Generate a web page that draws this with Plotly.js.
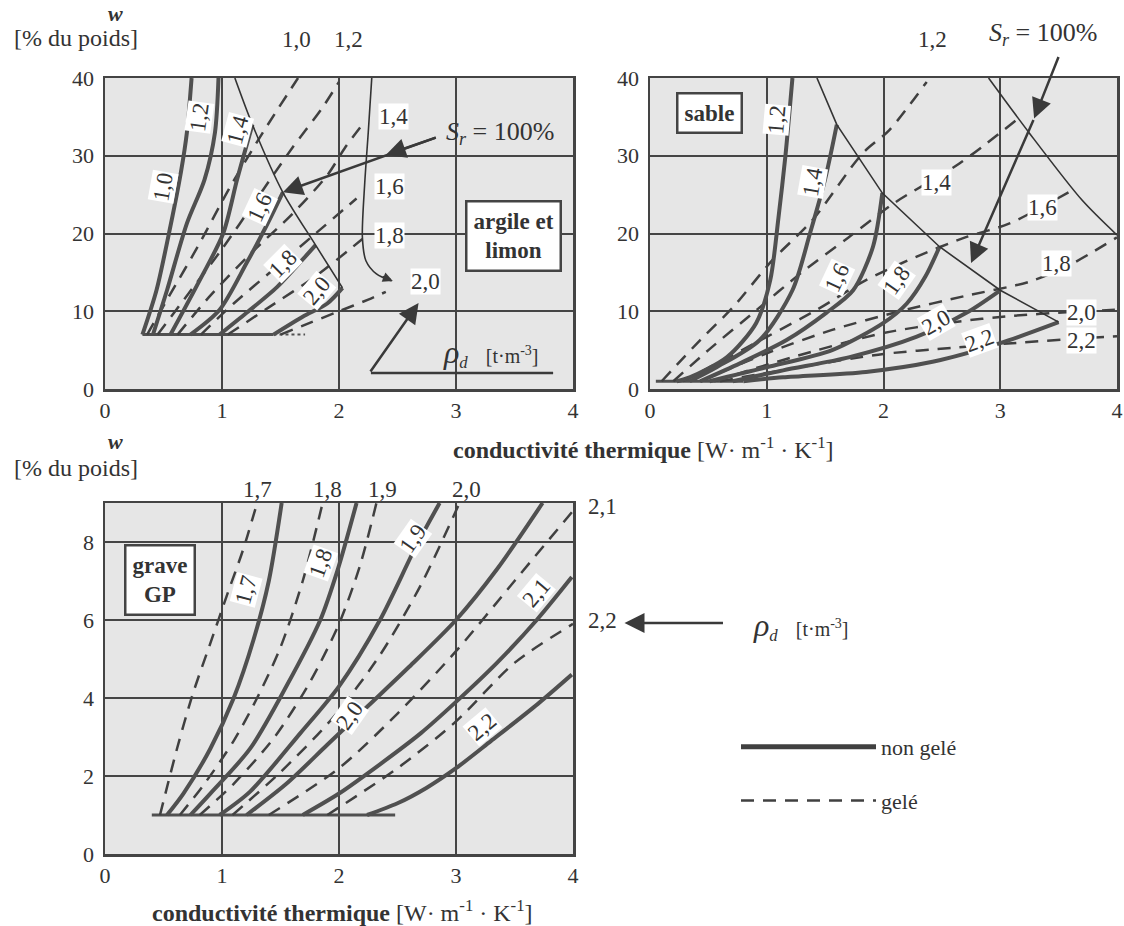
<!DOCTYPE html>
<html>
<head>
<meta charset="utf-8">
<script src="https://cdn.plot.ly/plotly-3.0.1.min.js"></script>
<style>body{margin:0;background:#fff}</style>
</head>
<body>
<div id="chart"></div>
<script>
// densités sèches (t/m3) de chaque famille de courbes
const rhoArgile = ['1,0', '1,2', '1,4', '1,6', '1,8', '2,0'];
const rhoSable = ['1,2', '1,4', '1,6', '1,8', '2,0', '2,2'];
const rhoGrave = ['1,7', '1,8', '1,9', '2,0', '2,1', '2,2'];

// argile et limon - non gelé
const argileSolidK = [
  [0.32, 0.44, 0.56, 0.65, 0.70, 0.74],
  [0.41, 0.53, 0.70, 0.85, 0.94, 0.97],
  [0.56, 0.81, 1.01, 1.13, 1.26],
  [0.73, 0.98, 1.21, 1.38, 1.52],
  [0.98, 1.21, 1.47, 1.68, 1.80],
  [1.44, 1.69, 1.90, 2.03]
];
const argileSolidW = [
  [7, 12.7, 21, 28, 33, 40],
  [7, 12.7, 21.3, 26.9, 33, 40],
  [7, 14, 20, 27, 34],
  [7, 10.2, 16.2, 21, 25.3],
  [7, 9.8, 13.1, 16.5, 18.5],
  [7, 9.3, 11, 13]
];
// argile et limon - gelé
const argileDashK = [
  [0.36, 0.55, 0.80, 1.07, 1.35, 1.65],
  [0.45, 0.70, 1.00, 1.30, 1.60, 1.85, 2.00],
  [0.62, 0.90, 1.25, 1.60, 1.90, 2.05, 2.20],
  [0.82, 1.10, 1.45, 1.80, 2.15],
  [1.05, 1.40, 1.80, 2.20],
  [1.50, 1.75, 2.00, 2.25, 2.40]
];
const argileDashW = [
  [7, 12, 18.5, 26, 33, 40],
  [7, 12, 18, 24.5, 31, 36, 39.5],
  [7, 12, 17.5, 22.5, 27.5, 31, 34],
  [7, 11, 15.5, 20, 24.5],
  [7, 10.5, 14.5, 19.3],
  [7, 8.5, 10, 11.5, 12.5]
];
const argileSrK = [1.11, 1.26, 1.52, 1.80, 2.03];
const argileSrW = [40, 34, 25.3, 18.5, 13];
const argileLeaderK = [2.28, 2.25, 2.22, 2.20, 2.23, 2.32, 2.45];
const argileLeaderW = [40, 33, 26.5, 19.5, 16.5, 14.8, 13.9];
const argileBaseK = [0.32, 1.44];
const argileBaseW = [7, 7];
const argileBaseDotK = [1.44, 1.71];

// sable
const sableSolidK = [
  [0.23, 0.34, 0.66, 0.91, 1.03, 1.10, 1.16, 1.22],
  [0.34, 0.57, 0.94, 1.22, 1.37, 1.50, 1.60],
  [0.43, 0.77, 1.17, 1.51, 1.74, 1.91, 1.99],
  [0.51, 1.00, 1.56, 2.00, 2.20, 2.36, 2.48],
  [0.71, 1.14, 1.71, 2.28, 2.71, 3.00],
  [0.80, 1.14, 1.85, 2.42, 3.00, 3.50]
];
const sableSolidW = [
  [1, 1.5, 4.1, 8.5, 14, 22, 30, 40],
  [1, 2.8, 6.3, 12.7, 20, 27, 34],
  [1, 3.3, 6.3, 9.8, 12.7, 18.3, 25.2],
  [1, 2.8, 5, 8.5, 11, 14.5, 18.3],
  [1, 2.4, 4.1, 6.7, 9.8, 12.7],
  [1, 1.5, 2.2, 3.5, 5.9, 8.6]
];
const sableDashK = [
  [0.10, 0.43, 0.71, 1.05, 1.39, 1.82, 2.05, 2.37],
  [0.20, 0.50, 0.90, 1.30, 1.70, 2.10, 2.65, 3.13],
  [0.28, 0.51, 1.00, 1.43, 1.85, 2.28, 2.70, 3.08, 3.62],
  [0.43, 1.00, 1.56, 2.14, 2.71, 3.25, 3.60, 4.00],
  [0.55, 1.20, 2.00, 2.60, 3.10, 3.60, 4.00],
  [0.60, 1.28, 2.00, 2.60, 3.20, 3.70, 4.00]
];
const sableDashW = [
  [1, 6.3, 10.5, 16.6, 21.7, 30.3, 33.3, 39.5],
  [1, 5, 10, 15, 19.5, 24, 29, 34.5],
  [1, 2.8, 6.7, 10.2, 14, 17, 19.5, 21.3, 25.6],
  [1, 4.6, 7.6, 10, 12, 13.8, 16, 19.5],
  [1, 4, 7.2, 8.6, 9.4, 9.9, 10.2],
  [1, 2.8, 4.5, 5.3, 6.0, 6.5, 6.8]
];
const sableSrK = [1.43, 1.60, 1.99, 2.48, 3.00, 3.50];
const sableSrW = [40, 34, 25.2, 18.3, 12.7, 8.6];
const sableIceK = [2.9, 3.25, 3.7, 4.0];
const sableIceW = [40, 32.9, 24.3, 19.8];
const sableBaseK = [0.05, 0.8];
const sableBaseW = [1, 1];

// grave GP
const graveSolidK = [
  [0.53, 0.67, 0.90, 1.10, 1.27, 1.40, 1.51],
  [0.73, 0.90, 1.24, 1.55, 1.84, 1.99, 2.15],
  [0.98, 1.24, 1.67, 2.00, 2.35, 2.66, 2.86],
  [1.21, 1.55, 1.90, 2.25, 2.60, 3.00, 3.35, 3.74],
  [1.69, 2.00, 2.35, 2.70, 3.00, 3.35, 3.69, 3.99],
  [2.24, 2.50, 2.75, 3.00, 3.30, 3.70, 3.99]
];
const graveSolidW = [
  [1, 1.55, 2.7, 4.0, 5.5, 7.0, 9],
  [1, 1.55, 2.7, 4.3, 6.0, 7.3, 9],
  [1, 1.6, 3.1, 4.3, 6.0, 7.9, 9],
  [1, 1.8, 2.8, 3.8, 4.8, 6.0, 7.3, 9],
  [1, 1.55, 2.3, 3.1, 3.9, 4.9, 6.0, 7.1],
  [1, 1.3, 1.7, 2.2, 2.9, 3.85, 4.6]
];
const graveDashK = [
  [0.47, 0.62, 0.75, 0.90, 1.05, 1.18, 1.30],
  [0.64, 0.85, 1.10, 1.30, 1.50, 1.69, 1.86],
  [0.81, 1.10, 1.45, 1.75, 2.00, 2.18, 2.32],
  [1.09, 1.50, 1.95, 2.35, 2.70, 3.03],
  [1.40, 2.00, 2.50, 3.00, 3.50, 4.00],
  [1.90, 2.50, 3.00, 3.50, 4.00]
];
const graveDashW = [
  [1, 2.75, 4.1, 5.4, 6.7, 7.8, 9],
  [1, 1.8, 2.9, 4.0, 5.3, 7.0, 9],
  [1, 1.8, 3.0, 4.4, 5.9, 7.4, 9],
  [1, 2.1, 3.5, 5.1, 6.9, 9],
  [1, 2.2, 3.6, 5.2, 7.0, 8.8],
  [1, 2.2, 3.4, 4.9, 5.9]
];
const graveBaseK = [0.4, 2.48];
const graveBaseW = [1, 1];

const xTicks = [0, 1, 2, 3, 4];
const yTicksTop = [0, 10, 20, 30, 40];
const yTicksGrave = [0, 2, 4, 6, 8];

const FONT = '"Liberation Serif", "Times New Roman", serif';
const INK = '#333';
const W = 1124, H = 926;

// pixel -> paper
function pxX(p) { return p / W; }
function pxY(p) { return 1 - p / H; }

var traces = [];

function addCurves(ks, ws, xa, ya, style) {
    ks.forEach((k, i) => {
        traces.push({
            x: k, y: ws[i], xaxis: xa, yaxis: ya,
            mode: 'lines', hoverinfo: 'skip', showlegend: false,
            line: Object.assign({shape: 'spline', smoothing: 0.8}, style)
        });
    });
}

const solid = {color: '#505050', width: 4};
const dashed = {color: '#404040', width: 2.5, dash: '13px,9px'};
const thin = {color: '#333', width: 1.6};

// argile et limon
addCurves([argileBaseK], [argileBaseW], 'x', 'y', {color: '#505050', width: 3});
addCurves([argileBaseDotK], [argileBaseW], 'x', 'y', {color: '#505050', width: 2, dash: 'dot'});
addCurves(argileDashK, argileDashW, 'x', 'y', dashed);
addCurves(argileSolidK, argileSolidW, 'x', 'y', solid);
addCurves([argileSrK], [argileSrW], 'x', 'y', thin);
addCurves([argileLeaderK], [argileLeaderW], 'x', 'y', thin);

// sable
addCurves([sableBaseK], [sableBaseW], 'x2', 'y2', {color: '#505050', width: 3});
addCurves(sableDashK, sableDashW, 'x2', 'y2', dashed);
addCurves(sableSolidK, sableSolidW, 'x2', 'y2', solid);
addCurves([sableSrK], [sableSrW], 'x2', 'y2', Object.assign({}, thin, {shape: 'linear'}));
addCurves([sableIceK], [sableIceW], 'x2', 'y2', thin);

// grave
addCurves([graveBaseK], [graveBaseW], 'x3', 'y3', {color: '#505050', width: 3});
addCurves(graveDashK, graveDashW, 'x3', 'y3', dashed);
addCurves(graveSolidK, graveSolidW, 'x3', 'y3', solid);

// legend entries
traces.push({x: [null], y: [null], mode: 'lines', name: 'non gelé', legendgroup: 'a',
    line: {color: '#404040', width: 5}, xaxis: 'x3', yaxis: 'y3'});
traces.push({x: [null], y: [null], mode: 'lines', name: 'gelé', legendgroup: 'b',
    line: {color: '#404040', width: 2.5, dash: '13px,9px'}, xaxis: 'x3', yaxis: 'y3'});

function axisX(px0, px1, anchor) {
    return {
        domain: [pxX(px0), pxX(px1)], anchor: anchor, range: [0, 4],
        tickvals: xTicks, ticks: '', ticklabelstandoff: 0,
        showgrid: true, gridcolor: '#454545', gridwidth: 2, zeroline: false,
        showline: true, mirror: true, linecolor: '#444', linewidth: 2.5,
        tickfont: {family: FONT, size: 22, color: INK}, fixedrange: true
    };
}
function axisY(py0, py1, anchor, range, ticks) {
    return {
        domain: [pxY(py1), pxY(py0)], anchor: anchor, range: range,
        tickvals: ticks, ticks: '', ticklabelstandoff: 4,
        showgrid: true, gridcolor: '#454545', gridwidth: 2, zeroline: false,
        showline: true, mirror: true, linecolor: '#444', linewidth: 2.5,
        tickfont: {family: FONT, size: 22, color: INK}, fixedrange: true
    };
}

var annotations = [];

function label(text, x, y, xr, yr, angle, bg, size) {
    annotations.push({
        text: text, x: x, y: y, xref: xr, yref: yr, showarrow: false,
        xanchor: 'center', yanchor: 'middle',
        textangle: angle || 0, bgcolor: bg === false ? 'rgba(0,0,0,0)' : 'white', borderpad: 0,
        font: {family: FONT, size: size || 23, color: INK}
    });
}
function arrow(x, y, ax, ay, xr, yr, size, pixel) {
    annotations.push({
        text: '', x: x, y: y, ax: ax, ay: ay, xref: xr, yref: yr,
        axref: pixel ? 'pixel' : xr, ayref: pixel ? 'pixel' : yr,
        showarrow: true, arrowhead: 2, arrowsize: size || 1.6, arrowwidth: 2.5, arrowcolor: '#3a3a3a'
    });
}
function box(text, x, y, xr, yr) {
    annotations.push({
        text: '<b>' + text + '</b>', x: x, y: y, xref: xr, yref: yr, showarrow: false,
        xanchor: 'center', yanchor: 'middle',
        bgcolor: 'white', bordercolor: '#444', borderwidth: 2.5, borderpad: 6,
        font: {family: FONT, size: 23, color: '#333'}
    });
}
function paperText(text, px, py, size) {
    annotations.push({
        text: text, x: pxX(px), y: pxY(py), xref: 'paper', yref: 'paper', showarrow: false,
        xanchor: 'center', yanchor: 'middle',
        font: {family: FONT, size: size, color: '#333'}
    });
}

// étiquettes argile (courbes non gelées, puis gelées)
[[0.50, 26, -80], [0.81, 35, -82], [1.13, 33.3, -75], [1.32, 23.4, -65], [1.52, 16.2, -45], [1.81, 12.7, -50]]
    .forEach((p, i) => label(rhoArgile[i], p[0], p[1], 'x', 'y', p[2]));
label(rhoArgile[0], 1.64, 44.9 / 40, 'x', 'y domain', 0, false);
label(rhoArgile[1], 2.08, 44.9 / 40, 'x', 'y domain', 0, false);
[[2.47, 35], [2.43, 26], [2.43, 19.8], [2.74, 13.8]]
    .forEach((p, i) => label(rhoArgile[i + 2], p[0], p[1], 'x', 'y'));
// étiquettes sable
[[1.09, 34.6, -85], [1.39, 26.6, -80], [1.60, 14.4, -65], [2.11, 14, -55], [2.45, 8.5, -30], [2.82, 6.3, -20]]
    .forEach((p, i) => label(rhoSable[i], p[0], p[1], 'x2', 'y2', p[2]));
label(rhoSable[0], 2.42, 44.9 / 40, 'x2', 'y2 domain', 0, false);
[[2.45, 26.6], [3.36, 23.4], [3.48, 16.2], [3.70, 9.8], [3.70, 6.3]]
    .forEach((p, i) => label(rhoSable[i + 1], p[0], p[1], 'x2', 'y2'));
// étiquettes grave
[[1.21, 6.77, -75], [1.84, 7.46, -70], [2.63, 8.1, -55], [2.09, 3.56, -55], [3.69, 6.7, -50], [3.23, 3.26, -40]]
    .forEach((p, i) => label(rhoGrave[i], p[0], p[1], 'x3', 'y3', p[2]));
[[1.30], [1.90], [2.37], [3.09]]
    .forEach((p, i) => label(rhoGrave[i], p[0], 9.35 / 9, 'x3', 'y3 domain', 0, false));
label(rhoGrave[4], 4.25 / 4, 8.9, 'x3 domain', 'y3', 0, false);
label(rhoGrave[5], 4.25 / 4, 6.0, 'x3 domain', 'y3', 0, false);

box('argile et<br>limon', 3.49, 19.7, 'x', 'y');
box('sable', 0.51, 35.5, 'x2', 'y2');
box('grave<br>GP', 0.47, 7.03, 'x3', 'y3');

const srText = '<i>S<sub>r</sub></i> = 100%';
const rhoText = '<span style="font-size:32px"><i>ρ</i></span><sub><i>d</i></sub>   <span style="font-size:20px">[t·m<sup>-3</sup>]</span>';

// S_r argile
label(srText, 3.38, 32.9, 'x', 'y', 0, false, 26);
arrow(1.52, 25.3, 2.84, 32.4, 'x', 'y');
arrow(2.40, 30.1, 2.84, 32.4, 'x', 'y');
arrow(2.46, 13.9, 2.36, 14.5, 'x', 'y', 0.8);
// rho_d argile
arrow(2.68, 11.05, 2.26, 2.06, 'x', 'y');
label(rhoText, 3.3, 4.6, 'x', 'y', 0, false, 24);
annotations.push({text: '', x: 3.83, y: 2.06, ax: 2.26, ay: 2.06, xref: 'x', yref: 'y', axref: 'x', ayref: 'y',
    showarrow: true, arrowhead: 0, arrowwidth: 2.5, arrowcolor: '#3a3a3a'});

// S_r sable
label(srText, 3.37, 45.6 / 40, 'x2', 'y2 domain', 0, false, 26);
arrow(3.29, 34.8, 25, -63, 'x2', 'y2', 1.6, true);
arrow(2.75, 16.2, 3.29, 34.8, 'x2', 'y2');

// rho_d grave
arrow(4.44 / 4, 5.92, 100, 0, 'x3 domain', 'y3', 1.6, true);
label(rhoText, 5.95 / 4, 5.85, 'x3 domain', 'y3', 0, false, 24);

// titres d'axes
paperText('<b><i>w</i></b>', 115, 13, 22);
paperText('[% du poids]', 76, 38, 24);
paperText('<b><i>w</i></b>', 115, 441, 22);
paperText('[% du poids]', 76, 468, 24);
paperText('<b>conductivité thermique</b> [W· m<sup>-1</sup> · K<sup>-1</sup>]', 643, 448, 24);
paperText('<b>conductivité thermique</b> [W· m<sup>-1</sup> · K<sup>-1</sup>]', 342, 911, 24);

var layout = {
    width: W, height: H,
    margin: {l: 0, r: 0, t: 0, b: 0},
    paper_bgcolor: 'white', plot_bgcolor: '#e6e6e6',
    xaxis: axisX(105, 573, 'y'), yaxis: axisY(78, 389, 'x', [0, 40], yTicksTop),
    xaxis2: axisX(650, 1117, 'y2'), yaxis2: axisY(78, 389, 'x2', [0, 40], yTicksTop),
    xaxis3: axisX(105, 573, 'y3'), yaxis3: axisY(503, 854, 'x3', [0, 9], yTicksGrave),
    showlegend: true,
    legend: {
        x: pxX(736), y: pxY(726), xanchor: 'left', yanchor: 'top',
        bgcolor: 'rgba(0,0,0,0)', itemwidth: 135, tracegroupgap: 22,
        traceorder: 'grouped',
        font: {family: FONT, size: 22, color: '#333'}
    },
    annotations: annotations
};

Plotly.newPlot('chart', traces, layout, {staticPlot: true});
</script>
</body>
</html>
